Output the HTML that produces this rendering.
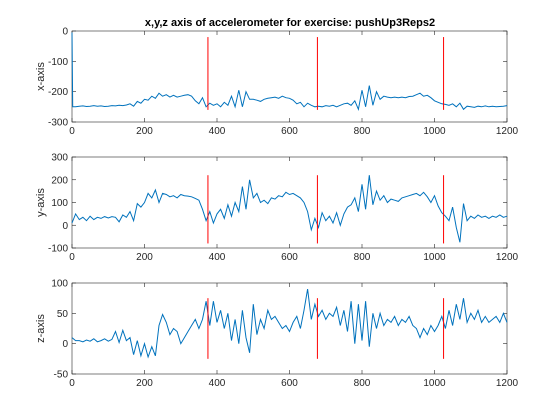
<!DOCTYPE html>
<html><head><meta charset="utf-8"><style>
body{margin:0;background:#fff;}
svg{display:block;font-family:"Liberation Sans",sans-serif;}
</style></head><body>
<svg id="fig" width="560" height="420">
<text x="290" y="26" text-anchor="middle" font-size="11" font-weight="bold">x,y,z axis of accelerometer for exercise: pushUp3Reps2</text>
</svg>
<script>
const xVals=[-5,-250,-250,-248,-247,-249,-248,-246,-248,-247,-249,-248,-246,-247,-245,-246,-244,
-240,-248,-232,-238,-225,-228,-215,-222,-205,-215,
-210,-218,-212,-218,-215,-212,-210,-215,-230,
-240,-220,-250,-238,-245,-240,-250,-235,-245,-215,
-250,-195,-250,-200,
-225,-225,-228,-232,-225,-222,-220,-218,-222,-215,-220,-222,-228,-240,-235,-250,-238,
-245,-250,-248,-250,-246,-248,-245,-250,-245,-240,-238,-245,
-230,-258,-195,-250,-180,-245,-200,-225,
-215,-218,-220,-218,-220,-218,-220,-216,-215,-210,-205,-215,-212,-220,-230,
-235,-240,-242,-245,-240,-250,-238,-258,-248,-250,-252,-248,-250,-247,-250,-248,-250,-249,-248,-246];
const yVals=[10,50,25,35,20,40,25,35,30,38,32,38,35,15,45,35,60,20,95,80,100,
140,120,155,100,140,135,125,130,120,135,130,128,125,118,
110,70,20,60,10,50,70,30,90,40,100,60,170,
70,200,120,140,100,110,95,120,115,130,125,145,135,140,130,120,100,
60,-20,30,-10,55,20,40,10,55,0,50,80,
90,120,60,180,70,220,
90,150,110,130,100,115,110,105,120,125,130,135,140,130,145,125,100,130,
85,55,40,20,80,-10,-75,95,20,
40,30,45,35,40,30,40,35,45,35,40];
const zVals=[10,5,5,3,6,4,8,3,5,8,4,7,20,2,22,5,10,
-18,5,-20,0,-22,-5,-20,
30,48,35,15,25,20,0,10,20,30,40,
25,40,70,30,70,35,55,25,50,5,40,0,55,
10,-15,65,15,40,25,55,40,45,35,25,30,20,35,45,25,55,
90,40,65,45,55,40,50,45,60,30,
55,20,70,0,65,5,70,-5,50,25,
50,30,40,35,45,30,40,35,45,30,25,10,25,15,30,20,
30,45,25,55,30,65,40,75,35,50,40,55,35,45,35,40,45,35,50,35];
const xTicks=[0,200,400,600,800,1000,1200];
const markers=[375,677,1025];
const panels=[
 {name:'x-axis',vals:xVals,spike:true,yMin:-300,yMax:0,yTicks:[-300,-200,-100,0],red:[-20,-260],top:31},
 {name:'y-axis',vals:yVals,spike:false,yMin:-100,yMax:300,yTicks:[-100,0,100,200,300],red:[220,-80],top:157},
 {name:'z-axis',vals:zVals,spike:false,yMin:-50,yMax:100,yTicks:[-50,0,50,100],red:[75,-25],top:283}
];
const NS='http://www.w3.org/2000/svg';
const svg=document.getElementById('fig');
function mk(tag,attrs,parent){const e=document.createElementNS(NS,tag);for(const k in attrs)e.setAttribute(k,attrs[k]);(parent||svg).appendChild(e);return e;}
const L=72,R=507,H=91;
panels.forEach(p=>{
 const g=mk('g',{});
 
 
 const sx=v=>L+(v/1200)*(R-L);
 const sy=v=>p.top+H-(v-p.yMin)/(p.yMax-p.yMin)*H;
 const box=mk('rect',{x:L,y:p.top,width:R-L,height:H,fill:'#fff',stroke:'#262626','stroke-width':0.6},g);
 
 
 xTicks.forEach(t=>{
  mk('line',{x1:sx(t),x2:sx(t),y1:p.top+H,y2:p.top+H-4,stroke:'#262626','stroke-width':0.6},g);
  mk('line',{x1:sx(t),x2:sx(t),y1:p.top,y2:p.top+4,stroke:'#262626','stroke-width':0.6},g);
  const tx=mk('text',{x:sx(t),y:p.top+H+12,'text-anchor':'middle','font-size':10,fill:'#262626'},g);
  tx.textContent=t;
  
  
 });
 p.yTicks.forEach(t=>{
  mk('line',{x1:L,x2:L+4,y1:sy(t),y2:sy(t),stroke:'#262626','stroke-width':0.6},g);
  mk('line',{x1:R,x2:R-4,y1:sy(t),y2:sy(t),stroke:'#262626','stroke-width':0.6},g);
  const tx=mk('text',{x:L-4,y:sy(t)+3.5,'text-anchor':'end','font-size':10,fill:'#262626'},g);
  tx.textContent=t;
  
  
 });
 const yl=mk('text',{x:0,y:0,'text-anchor':'middle','font-size':11,fill:'#262626',transform:`translate(44,${p.top+H/2}) rotate(-90)`},g);
 yl.textContent=p.name;
 
 
 let pts=[];
 if(p.spike){
  pts.push([0,p.vals[0]]);pts.push([2,p.vals[1]]);
  for(let i=2;i<p.vals.length;i++)pts.push([(i-1)*10,p.vals[i]]);
 } else {
  p.vals.forEach((v,i)=>pts.push([i*10,v]));
 }
 const line=mk('polyline',{points:pts.map(q=>sx(q[0]).toFixed(1)+','+sy(q[1]).toFixed(1)).join(' '),fill:'none',stroke:'#0072BD','stroke-width':1},g);
 
 
 markers.forEach(m=>{
  const r=mk('line',{x1:sx(m),x2:sx(m),y1:sy(p.red[0]),y2:sy(p.red[1]),stroke:'#FF0000','stroke-width':1},g);
  
  
 });
});
</script>
</body></html>
